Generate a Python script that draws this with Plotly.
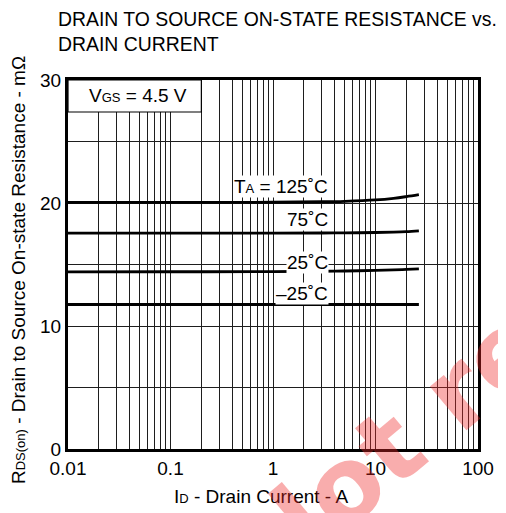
import math
import plotly.graph_objects as go

# ---- data ----
drain_current = [0.01, 0.1, 1, 3, 5, 10, 15, 20, 26.5]
r_125 = [20.05, 20.05, 20.06, 20.1, 20.14, 20.25, 20.38, 20.52, 20.68]
r_75 = [17.55, 17.55, 17.55, 17.56, 17.57, 17.6, 17.63, 17.67, 17.74]
r_25 = [14.4, 14.41, 14.42, 14.45, 14.47, 14.52, 14.56, 14.6, 14.64]
r_m25 = [11.75, 11.75, 11.75, 11.75, 11.75, 11.75, 11.75, 11.75, 11.75]

x_tick_vals = [0.01, 0.1, 1, 10, 100]
x_tick_text = ["0.01", "0.1", "1", "10", "100"]
x_minor_vals = [m * 10 ** e for e in range(-2, 2) for m in range(2, 10)]
y_tick_vals = [0, 10, 20, 30]

FONT = "Arial, Liberation Sans, Helvetica, sans-serif"
GRID = "#1e1e1e"
FS = 19
SUB = 13

fig = go.Figure()
for ys in (r_125, r_75, r_25, r_m25):
    fig.add_trace(go.Scatter(x=drain_current, y=ys, mode="lines",
                             line=dict(color="black", width=2.8, shape="spline"),
                             showlegend=False, hoverinfo="skip"))

fig.update_layout(
    width=498, height=505,
    margin=dict(l=60, r=20, t=72, b=64),
    paper_bgcolor="white", plot_bgcolor="white",
    font=dict(family=FONT, size=FS, color="black"),
    showlegend=False,
)
fig.update_xaxes(
    type="log", range=[-2, 2],
    tickmode="array", tickvals=x_tick_vals, ticktext=x_tick_text,
    showgrid=True, gridcolor=GRID, gridwidth=1,
    minor=dict(tickmode="array", tickvals=x_minor_vals, showgrid=True,
               gridcolor=GRID, gridwidth=1, ticks=""),
    showline=True, linecolor="black", linewidth=3, mirror=True,
    ticks="", zeroline=False, tickfont=dict(size=FS),
)
fig.update_yaxes(
    range=[0, 30], tickmode="array", tickvals=y_tick_vals,
    showgrid=True, gridcolor=GRID, gridwidth=1,
    minor=dict(dtick=5, tick0=0, showgrid=True, gridcolor=GRID, gridwidth=1, ticks=""),
    showline=True, linecolor="black", linewidth=3, mirror=True,
    ticks="", zeroline=False, tickfont=dict(size=FS),
)

# V_GS box (shape positions are data values on log axes)
fig.add_shape(type="rect", xref="x", yref="y",
              x0=0.01, x1=0.2, y0=27.4, y1=30,
              fillcolor="white", line=dict(color="black", width=1.2), layer="between")
fig.add_annotation(xref="x", yref="y", x=math.log10(0.0478), y=28.7,
                   xanchor="center", yanchor="middle",
                   text=f"V<span style='font-size:{SUB}px'>GS</span> = 4.5 V",
                   showarrow=False, font=dict(size=FS))

# curve labels
labels = [(f"T<span style='font-size:{SUB}px'>A</span> = 125˚C", 21.34),
          ("75˚C", 18.62), ("25˚C", 15.16), ("–25˚C", 12.64)]
for txt, yv in labels:
    fig.add_annotation(xref="x", yref="y", x=math.log10(3.5), y=yv, text=txt,
                       xanchor="right", yanchor="middle", showarrow=False,
                       bgcolor="white", borderpad=0, font=dict(size=FS))

# title
fig.add_annotation(xref="paper", yref="paper", x=-0.0287, y=1.2005,
                   xanchor="left", yanchor="top", align="left", showarrow=False,
                   text="DRAIN TO SOURCE ON-STATE RESISTANCE vs.<br>DRAIN CURRENT",
                   font=dict(size=19.4))
# axis titles
fig.add_annotation(xref="paper", yref="paper", x=0.471, y=-0.130,
                   xanchor="center", yanchor="middle",
                   showarrow=False, font=dict(size=FS),
                   text=f"I<span style='font-size:{SUB}px'>D</span> - Drain Current - A")
fig.add_annotation(xref="paper", yref="paper", x=(17 - 68) / 418, y=0.485,
                   xanchor="center", yanchor="middle",
                   textangle=-90, showarrow=False, font=dict(size=FS),
                   text=f"R<span style='font-size:{SUB}px'>DS(on)</span> - Drain to Source On-state Resistance - mΩ")

# watermark
fig.add_annotation(xref="paper", yref="paper", x=(416 - 68) / 418, y=(449 - 431) / 369,
                   xanchor="center", yanchor="middle",
                   textangle=-40, showarrow=False,
                   text="<b>lot re</b>",
                   font=dict(size=104, color="rgba(240,40,40,0.38)", family="DejaVu Sans"))

fig.write_html("out.html")
